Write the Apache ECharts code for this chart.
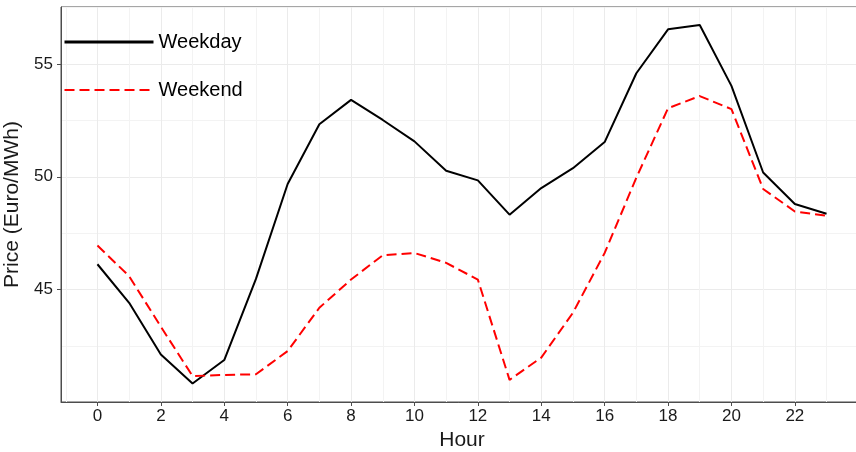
<!DOCTYPE html>
<html>
<head>
<meta charset="utf-8">
<title>Hourly electricity price</title>
<script src="https://cdn.jsdelivr.net/npm/echarts@6/dist/echarts.min.js"></script>
<style>
  html, body { margin: 0; padding: 0; background: #ffffff; }
  #chart { width: 856px; height: 452px; }
</style>
</head>
<body>
<div id="chart"></div>
<script>
// Hour of day
const hours = [0, 1, 2, 3, 4, 5, 6, 7, 8, 9, 10, 11, 12, 13, 14, 15, 16, 17, 18, 19, 20, 21, 22, 23];

// Average price (Euro/MWh) per hour
const weekday = [46.12, 44.41, 42.12, 40.83, 41.87, 45.47, 49.68, 52.33, 53.41, 52.52, 51.57, 50.27,
                 49.84, 48.32, 49.50, 50.38, 51.54, 54.59, 56.54, 56.73, 54.03, 50.19, 48.79, 48.36];
const weekend = [46.95, 45.59, 43.35, 41.16, 41.21, 41.24, 42.27, 44.19, 45.44, 46.52, 46.62, 46.18,
                 45.44, 40.99, 41.98, 43.97, 46.62, 49.96, 53.04, 53.58, 53.00, 49.46, 48.46, 48.27];

// Axis ticks
const xTicks = [0, 2, 4, 6, 8, 10, 12, 14, 16, 18, 20, 22];
const xMinorTicks = [-1, 1, 3, 5, 7, 9, 11, 13, 15, 17, 19, 21, 23];
const yTicks = [45, 50, 55];
const yMinorTicks = [42.5, 47.5, 52.5, 57.5];

const toPairs = (vals) => hours.map((h, i) => [h, vals[i]]);

const X_MIN = -1.15, X_MAX = 24.15;
const Y_MIN = 40.01, Y_MAX = 57.53;

const textColor = '#1a1a1a';
const frameColor = '#4d4d4d';
const majorGrid = '#ebebeb';
const minorGrid = '#f3f3f3';
const fontFamily = '"Liberation Sans", Arial, sans-serif';

const chart = echarts.init(document.getElementById('chart'), null, { renderer: 'canvas' });

chart.setOption({
  animation: false,
  backgroundColor: '#ffffff',
  textStyle: { fontFamily: fontFamily },
  grid: {
    left: 61, top: 7, right: -7, bottom: 50,
    outerBoundsMode: 'none',
    containLabel: false,
    show: true,
    borderColor: frameColor,
    borderWidth: 1,
    backgroundColor: 'transparent'
  },
  legend: {
    orient: 'vertical',
    left: 58,
    top: 27,
    itemWidth: 89,
    itemHeight: 20,
    itemGap: 28,
    textStyle: { fontSize: 20, color: '#000000', fontFamily: fontFamily },
    itemStyle: { opacity: 0 },
    data: [
      { name: 'Weekday', lineStyle: { width: 3 }, itemStyle: { opacity: 0 } },
      { name: 'Weekend', lineStyle: { width: 2 }, itemStyle: { opacity: 0 } }
    ]
  },
  xAxis: [
    {
      type: 'value',
      min: X_MIN, max: X_MAX,
      name: 'Hour',
      nameLocation: 'middle',
      nameGap: 25,
      nameTextStyle: { fontSize: 21, color: textColor },
      axisLine: { show: true, onZero: false, lineStyle: { color: frameColor, width: 1 } },
      axisTick: { show: true, length: 4, customValues: xTicks, lineStyle: { color: frameColor } },
      axisLabel: { customValues: xTicks, fontSize: 17, color: textColor, margin: 6 },
      splitLine: { show: true, lineStyle: { color: majorGrid, width: 1 } }
    },
    {
      type: 'value',
      min: X_MIN, max: X_MAX,
      position: 'bottom',
      axisLine: { show: false },
      axisTick: { show: false, customValues: xMinorTicks },
      axisLabel: { show: false, customValues: xMinorTicks },
      splitLine: { show: true, lineStyle: { color: minorGrid, width: 1 } }
    }
  ],
  yAxis: [
    {
      type: 'value',
      min: Y_MIN, max: Y_MAX,
      name: 'Price (Euro/MWh)',
      nameLocation: 'middle',
      nameRotate: 90,
      nameGap: 32,
      nameTextStyle: { fontSize: 21, color: textColor },
      axisLine: { show: true, onZero: false, lineStyle: { color: frameColor, width: 1 } },
      axisTick: { show: true, length: 4, customValues: yTicks, lineStyle: { color: frameColor } },
      axisLabel: { customValues: yTicks, fontSize: 17, color: textColor, margin: 8 },
      splitLine: { show: true, lineStyle: { color: majorGrid, width: 1 } }
    },
    {
      type: 'value',
      min: Y_MIN, max: Y_MAX,
      position: 'left',
      axisLine: { show: false },
      axisTick: { show: false, customValues: yMinorTicks },
      axisLabel: { show: false, customValues: yMinorTicks },
      splitLine: { show: true, lineStyle: { color: minorGrid, width: 1 } }
    }
  ],
  series: [
    {
      name: 'Weekday',
      type: 'line',
      xAxisIndex: 0, yAxisIndex: 0,
      data: toPairs(weekday),
      symbol: 'none',
      color: '#000000',
      lineStyle: { color: '#000000', width: 2 },
      z: 3
    },
    {
      name: 'Weekend',
      type: 'line',
      xAxisIndex: 0, yAxisIndex: 0,
      data: toPairs(weekend),
      symbol: 'none',
      color: '#ff0000',
      lineStyle: { color: '#ff0000', width: 2, type: [10, 5] },
      z: 3
    }
  ]
});
</script>
</body>
</html>
